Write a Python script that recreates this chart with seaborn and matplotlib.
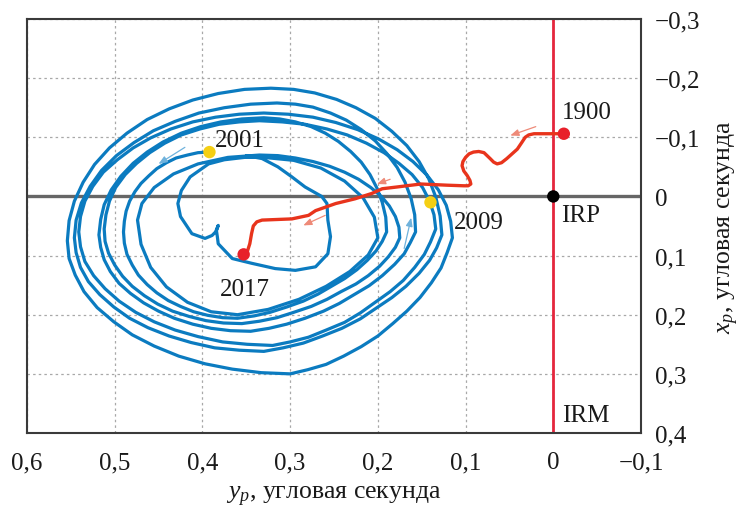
import numpy as np
import pandas as pd
import matplotlib
matplotlib.use("Agg")
import matplotlib.pyplot as plt
from matplotlib.ticker import FixedLocator, FixedFormatter
import seaborn as sns

# ---------------- data (yp, xp) in arc seconds ----------------
loop_1 = [(0.392, -0.075),
          (0.405, -0.074), (0.417, -0.070), (0.430, -0.065), (0.441, -0.057), (0.452, -0.047), (0.461, -0.035),
          (0.470, -0.022), (0.477, -0.008), (0.483, 0.008), (0.487, 0.025), (0.489, 0.042), (0.490, 0.060),
          (0.489, 0.079), (0.486, 0.098), (0.480, 0.116), (0.473, 0.133), (0.463, 0.149), (0.452, 0.163),
          (0.439, 0.176), (0.425, 0.186), (0.410, 0.195), (0.394, 0.201), (0.377, 0.205), (0.360, 0.206),
          (0.341, 0.202), (0.323, 0.196), (0.304, 0.187), (0.285, 0.177), (0.268, 0.165), (0.253, 0.152),
          (0.238, 0.139), (0.224, 0.124), (0.212, 0.108), (0.202, 0.092), (0.195, 0.076), (0.190, 0.060),
          (0.191, 0.035), (0.195, 0.010), (0.201, -0.014), (0.209, -0.037), (0.219, -0.058), (0.231, -0.076),
          (0.245, -0.093), (0.260, -0.107), (0.276, -0.118), (0.294, -0.126), (0.312, -0.131), (0.330, -0.133)]
loop_2 = [(0.355, -0.131), (0.379, -0.126), (0.402, -0.118), (0.424, -0.107), (0.445, -0.092), (0.463, -0.075),
          (0.479, -0.056), (0.493, -0.034), (0.504, -0.011), (0.512, 0.014), (0.516, 0.039), (0.518, 0.065),
          (0.516, 0.086), (0.512, 0.107), (0.505, 0.127), (0.495, 0.147), (0.482, 0.164), (0.467, 0.180),
          (0.450, 0.194), (0.432, 0.206), (0.411, 0.216), (0.390, 0.223), (0.368, 0.227), (0.345, 0.228),
          (0.324, 0.223), (0.304, 0.216), (0.283, 0.206), (0.262, 0.194), (0.244, 0.181), (0.227, 0.166),
          (0.210, 0.151), (0.195, 0.134), (0.181, 0.115), (0.170, 0.097), (0.163, 0.078), (0.157, 0.060),
          (0.158, 0.031), (0.162, 0.004), (0.169, -0.024), (0.178, -0.049), (0.190, -0.073), (0.203, -0.094),
          (0.219, -0.113), (0.236, -0.129), (0.254, -0.141), (0.274, -0.151), (0.294, -0.156), (0.315, -0.158)]
loop_3 = [(0.345, -0.156), (0.375, -0.150), (0.404, -0.141), (0.431, -0.127), (0.456, -0.111), (0.478, -0.091),
          (0.498, -0.069), (0.515, -0.044), (0.528, -0.017), (0.538, 0.011), (0.544, 0.040), (0.546, 0.070),
          (0.544, 0.095), (0.539, 0.120), (0.530, 0.144), (0.517, 0.166), (0.501, 0.187), (0.483, 0.206),
          (0.462, 0.222), (0.438, 0.236), (0.413, 0.247), (0.386, 0.256), (0.358, 0.260), (0.330, 0.262),
          (0.308, 0.256), (0.285, 0.248), (0.263, 0.236), (0.241, 0.223), (0.220, 0.207), (0.202, 0.189),
          (0.184, 0.171), (0.168, 0.152), (0.153, 0.130), (0.141, 0.108), (0.133, 0.087), (0.127, 0.065),
          (0.129, 0.033), (0.134, 0.001), (0.142, -0.030), (0.153, -0.059), (0.167, -0.086), (0.184, -0.110),
          (0.203, -0.132), (0.225, -0.150), (0.247, -0.164), (0.272, -0.175), (0.296, -0.181), (0.322, -0.183)]
loop_4 = [(0.352, -0.181), (0.382, -0.174), (0.411, -0.163), (0.438, -0.148), (0.463, -0.130), (0.486, -0.107),
          (0.506, -0.082), (0.523, -0.054), (0.536, -0.024), (0.546, 0.008), (0.552, 0.041), (0.554, 0.075),
          (0.552, 0.105), (0.545, 0.133), (0.535, 0.161), (0.520, 0.188), (0.501, 0.212), (0.480, 0.234),
          (0.455, 0.253), (0.427, 0.270), (0.397, 0.283), (0.366, 0.292), (0.333, 0.298), (0.300, 0.300),
          (0.280, 0.293), (0.259, 0.284), (0.239, 0.270), (0.219, 0.254), (0.200, 0.236), (0.183, 0.215),
          (0.167, 0.194), (0.152, 0.171), (0.139, 0.146), (0.128, 0.121), (0.121, 0.095), (0.115, 0.070),
          (0.117, 0.042), (0.122, 0.015), (0.131, -0.011), (0.144, -0.036), (0.160, -0.059), (0.178, -0.079),
          (0.199, -0.097), (0.223, -0.113), (0.248, -0.125), (0.274, -0.134), (0.302, -0.139), (0.330, -0.141)]
loop_5 = [(0.358, -0.139), (0.385, -0.134), (0.411, -0.126), (0.436, -0.114), (0.459, -0.099), (0.479, -0.082),
          (0.497, -0.062), (0.513, -0.041), (0.525, -0.017), (0.534, 0.008), (0.539, 0.034), (0.541, 0.060),
          (0.539, 0.085), (0.534, 0.110), (0.524, 0.134), (0.511, 0.156), (0.495, 0.177), (0.476, 0.196),
          (0.455, 0.212), (0.431, 0.226), (0.405, 0.237), (0.377, 0.246), (0.349, 0.250), (0.320, 0.252),
          (0.300, 0.246), (0.279, 0.238), (0.259, 0.226), (0.238, 0.213), (0.220, 0.197), (0.203, 0.179),
          (0.186, 0.161), (0.171, 0.142), (0.158, 0.120), (0.147, 0.098), (0.140, 0.077), (0.134, 0.055),
          (0.136, 0.031), (0.141, 0.008), (0.149, -0.015), (0.161, -0.037), (0.176, -0.056), (0.193, -0.074),
          (0.213, -0.090), (0.235, -0.104), (0.258, -0.114), (0.283, -0.122), (0.309, -0.126), (0.335, -0.128)]
loop_6 = [(0.358, -0.126), (0.381, -0.122), (0.403, -0.114), (0.424, -0.104), (0.443, -0.090), (0.460, -0.074),
          (0.475, -0.056), (0.488, -0.037), (0.499, -0.015), (0.506, 0.008), (0.510, 0.031), (0.512, 0.055),
          (0.511, 0.076), (0.507, 0.096), (0.500, 0.116), (0.491, 0.135), (0.480, 0.152), (0.466, 0.168),
          (0.451, 0.182), (0.434, 0.194), (0.415, 0.203), (0.396, 0.210), (0.376, 0.214), (0.355, 0.215),
          (0.335, 0.211), (0.315, 0.205), (0.296, 0.196), (0.276, 0.186), (0.258, 0.174), (0.242, 0.161),
          (0.225, 0.148), (0.211, 0.134), (0.198, 0.118), (0.188, 0.102), (0.180, 0.086), (0.175, 0.070),
          (0.176, 0.052), (0.180, 0.034), (0.187, 0.016), (0.196, 0.000), (0.208, -0.015), (0.222, -0.029),
          (0.238, -0.041), (0.255, -0.051), (0.274, -0.059), (0.294, -0.065), (0.314, -0.069), (0.335, -0.070)]
loop_7 = [(0.371, -0.066), (0.405, -0.055), (0.433, -0.038), (0.455, -0.015), (0.469, 0.012),
          (0.474, 0.040), (0.470, 0.081), (0.459, 0.120), (0.441, 0.153), (0.417, 0.179),
          (0.390, 0.195), (0.360, 0.200), (0.325, 0.191), (0.290, 0.174), (0.259, 0.152),
          (0.232, 0.127), (0.211, 0.099), (0.200, 0.070), (0.204, 0.035), (0.217, 0.002),
          (0.238, -0.026), (0.265, -0.048), (0.296, -0.061), (0.330, -0.066)]
loop_8 = [(0.352, -0.066), (0.375, -0.062), (0.393, -0.055), (0.414, -0.033), (0.424, -0.010),
          (0.428, 0.012), (0.425, 0.034), (0.412, 0.063), (0.397, 0.071), (0.389, 0.066),
          (0.385, 0.060), (0.382, 0.049), (0.384, 0.058), (0.383, 0.068), (0.382, 0.080),
          (0.366, 0.105), (0.344, 0.113), (0.317, 0.122), (0.294, 0.125), (0.271, 0.119),
          (0.257, 0.097), (0.254, 0.068), (0.257, 0.040), (0.258, 0.012), (0.264, 0.000),
          (0.283, -0.016), (0.298, -0.033), (0.314, -0.050), (0.332, -0.064), (0.350, -0.069)]

mean_pole_yp = [-0.012, 0.003, 0.022, 0.028, 0.032, 0.036, 0.041, 0.053, 0.059, 0.064, 0.068,
                0.072, 0.079, 0.085, 0.091, 0.096, 0.100, 0.103, 0.104, 0.102, 0.098, 0.095,
                0.094, 0.097, 0.102, 0.121, 0.151, 0.178, 0.195, 0.207, 0.226, 0.248, 0.271,
                0.279, 0.298, 0.315, 0.332, 0.338, 0.342, 0.344, 0.346, 0.349, 0.353]
mean_pole_xp = [-0.106, -0.106, -0.106, -0.104, -0.100, -0.091, -0.080, -0.064, -0.057, -0.055,
                -0.058, -0.064, -0.074, -0.076, -0.075, -0.072, -0.066, -0.059, -0.052, -0.043,
                -0.035, -0.027, -0.021, -0.018, -0.018, -0.019, -0.021, -0.016, -0.013, -0.005,
                0.004, 0.012, 0.024, 0.032, 0.038, 0.039, 0.040, 0.043, 0.050, 0.063, 0.080,
                0.094, 0.098]

marker_names = ["1900", "IRP", "2001", "2009", "2017"]
marker_yp = [-0.012, 0.0, 0.392, 0.140, 0.353]
marker_xp = [-0.106, 0.0, -0.075, 0.010, 0.098]
marker_colors = ["#e8202a", "#000000", "#f5cf14", "#f5cf14", "#e8202a"]

label_texts = ["1900", "2001", "2009", "2017", "IRP", "IRM"]
label_yp = [-0.038, 0.357, 0.085, 0.352, -0.031, -0.037]
label_xp = [-0.143, -0.095, 0.043, 0.156, 0.031, 0.369]

x_ticks = [0.6, 0.5, 0.4, 0.3, 0.2, 0.1, 0.0, -0.1]
x_tick_labels = ["0,6", "0,5", "0,4", "0,3", "0,2", "0,1", "0", "\u22120,1"]
y_ticks = [-0.3, -0.2, -0.1, 0.0, 0.1, 0.2, 0.3, 0.4]
y_tick_labels = ["\u22120,3", "\u22120,2", "\u22120,1", "0", "0,1", "0,2", "0,3", "0,4"]

# arrows: (tail_yp, tail_xp, head_yp, head_xp)
red_arrows = [(0.020, -0.118, 0.049, -0.103), (0.186, -0.029, 0.201, -0.021),
              (0.260, 0.032, 0.285, 0.049)]
blue_arrows = [(0.420, -0.083, 0.450, -0.055), (0.170, 0.088, 0.162, 0.036)]

# ---------------- style ----------------
sns.set_style("white")
plt.rcParams["font.family"] = ["Liberation Serif", "DejaVu Serif"]
plt.rcParams["mathtext.fontset"] = "custom"
plt.rcParams["mathtext.rm"] = "Liberation Serif"
plt.rcParams["mathtext.it"] = "Liberation Serif:italic"

BLUE = "#0b7bc0"
RED_PATH = "#e8341c"
RED_LINE = "#e5263d"

fig = plt.figure(figsize=(7.4, 5.1), dpi=100)
ax = fig.add_axes([27 / 740, (510 - 434) / 510, (641 - 27) / 740, (434 - 20) / 510])

spiral = loop_1 + loop_2 + loop_3 + loop_4 + loop_5 + loop_6 + loop_7 + loop_8
df_spiral = pd.DataFrame(spiral, columns=["yp", "xp"])
df_mean = pd.DataFrame({"yp": mean_pole_yp, "xp": mean_pole_xp})

ax.set_xlim(0.6, -0.1)
ax.set_ylim(0.4, -0.3)

ax.grid(True, linestyle=(0, (2.0, 2.5)), color="#a8a8a8", linewidth=0.9)
ax.set_axisbelow(True)
ax.axhline(0, color="#666666", lw=2.4, zorder=1.5)
ax.axvline(0, color=RED_LINE, lw=2.0, zorder=1.6)

sns.lineplot(data=df_spiral, x="yp", y="xp", sort=False, estimator=None, color=BLUE,
             lw=2.3, ax=ax, zorder=2, solid_joinstyle="round", solid_capstyle="round")
sns.lineplot(data=df_mean, x="yp", y="xp", sort=False, estimator=None, color=RED_PATH,
             lw=2.4, ax=ax, zorder=3, solid_joinstyle="round", solid_capstyle="round")

for (ty, tx, hy, hx) in red_arrows:
    ax.annotate("", xy=(hy, hx), xytext=(ty, tx),
                arrowprops=dict(arrowstyle="-|>,head_length=0.5,head_width=0.2",
                                color="#ee8a78", lw=0.9, shrinkA=0, shrinkB=0), zorder=4)
for (ty, tx, hy, hx) in blue_arrows:
    ax.annotate("", xy=(hy, hx), xytext=(ty, tx),
                arrowprops=dict(arrowstyle="-|>,head_length=0.5,head_width=0.2",
                                color="#6fb2dc", lw=0.9, shrinkA=0, shrinkB=0), zorder=4)

df_markers = pd.DataFrame({"yp": marker_yp, "xp": marker_xp, "name": marker_names})
sns.scatterplot(data=df_markers, x="yp", y="xp", hue="name",
                palette=dict(zip(marker_names, marker_colors)), s=80,
                edgecolor="none", legend=False, ax=ax, zorder=5)

for t, yv, xv in zip(label_texts, label_yp, label_xp):
    ax.text(yv, xv, t, ha="center", va="center", fontsize=18, color="#1a1a1a", zorder=6)

# axes
ax.xaxis.set_major_locator(FixedLocator(x_ticks))
ax.xaxis.set_major_formatter(FixedFormatter(x_tick_labels))
ax.yaxis.tick_right()
ax.yaxis.set_label_position("right")
ax.yaxis.set_major_locator(FixedLocator(y_ticks))
ax.yaxis.set_major_formatter(FixedFormatter(y_tick_labels))
ax.tick_params(axis="x", direction="in", length=5, width=1.0, color="#3a3a3a",
               labelsize=18, pad=13, labelcolor="#1a1a1a")
ax.tick_params(axis="y", direction="in", length=0, labelsize=18, pad=10,
               labelcolor="#1a1a1a")
for sp in ax.spines.values():
    sp.set_visible(True)
    sp.set_color("#3a3a3a")
    sp.set_linewidth(1.5)

ax.set_xlabel(r"$y_p$, угловая секунда", fontsize=18.5, labelpad=8, color="#1a1a1a")
ax.set_ylabel(r"$x_p$, угловая секунда", fontsize=18.5, labelpad=12, rotation=90,
              color="#1a1a1a")

fig.savefig("out.png", dpi=100)
